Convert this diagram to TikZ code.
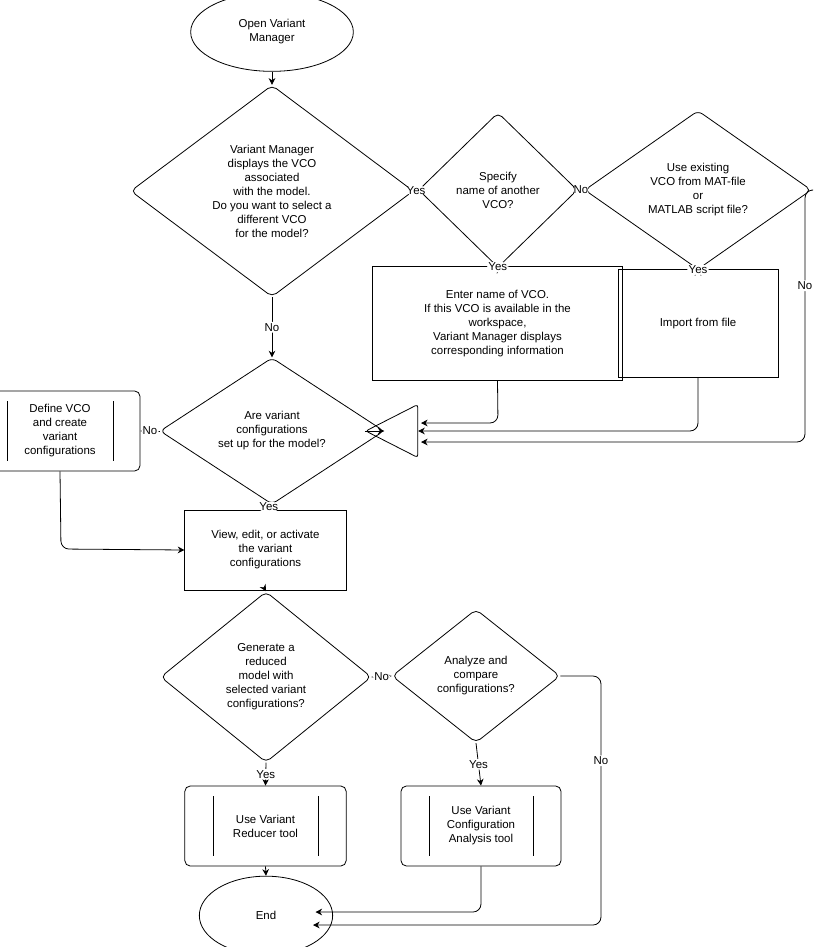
\documentclass[tikz,border=0pt]{standalone}
\usepackage{fontspec}
\setmainfont{Liberation Sans}
\usetikzlibrary{shapes.geometric,arrows.meta}
\begin{document}
\begin{tikzpicture}[x=0.75pt,y=-0.75pt,
  base/.style={draw=black,line width=0.6pt,align=center,font=\fontsize{8.6}{10.5}\selectfont,inner sep=0pt},
  dia/.style={base,diamond,rounded corners=4pt},
  box/.style={base,rectangle},
  sub/.style={base,rectangle,rounded corners=4pt},
  term/.style={base,ellipse},
  arr/.style={-{Stealth[length=5pt,width=5pt]},line width=0.6pt,rounded corners=6pt},
  lab/.style={fill=white,font=\fontsize{8.6}{10}\selectfont,inner sep=1pt}]
\useasboundingbox (0,0) rectangle (815,947);
\node[term,minimum width=122,minimum height=59] (start) at (272,32) {Open Variant\\Manager};
\node[dia,minimum width=212,minimum height=157] (d1) at (272,191) {Variant Manager\\displays the VCO\\associated\\with the model.\\Do you want to select a\\different VCO\\for the model?};
\node[dia,minimum width=119,minimum height=116] (d2) at (498,190) {Specify\\name of another\\VCO?};
\node[dia,minimum width=170,minimum height=119] (d3) at (698,190) {Use existing\\VCO from MAT-file\\or\\MATLAB script file?};
\node[box,minimum width=187,minimum height=85] (enter) at (497.5,323.5) {Enter name of VCO.\\If this VCO is available in the\\workspace,\\Variant Manager displays\\corresponding information};
\node[box,minimum width=120,minimum height=81] (imp) at (698,323.5) {Import from file};
\node[dia,minimum width=168,minimum height=99] (d4) at (272,431) {Are variant\\configurations\\set up for the model?};
\node[base,isosceles triangle,shape border rotate=180,isosceles triangle apex angle=54,minimum height=39,minimum width=39,rounded corners=2pt] (tri) at (401.5,431) {};
\node[sub,minimum width=120,minimum height=60] (def) at (60,431) {Define VCO\\and create\\variant\\configurations};
\draw[line width=0.6pt] (7,401) -- (7,461) (113,401) -- (113,461);
\node[box,minimum width=121,minimum height=60] (view) at (265.5,550) {View, edit, or activate\\the variant\\configurations};
\node[dia,minimum width=158,minimum height=128] (d5) at (266,677) {Generate a\\reduced\\model with\\selected variant\\configurations?};
\node[dia,minimum width=126,minimum height=100] (d6) at (476,676) {Analyze and\\compare\\configurations?};
\node[sub,minimum width=121,minimum height=60] (red) at (265.5,826) {Use Variant\\Reducer tool};
\draw[line width=0.6pt] (213,796) -- (213,856) (318,796) -- (318,856);
\node[sub,minimum width=120,minimum height=60] (ana) at (481,826) {Use Variant\\Configuration\\Analysis tool};
\draw[line width=0.6pt] (429,796) -- (429,856) (533,796) -- (533,856);
\node[term,minimum width=100,minimum height=59] (end) at (266,915.5) {End};

\draw[arr] (start) -- (d1);
\draw[arr] (d1.east) -- node[lab]{Yes} (d2.west);
\draw[arr] (d2.east) -- node[lab]{No} (d3.west);
\draw[arr] (d2.south) -- node[lab]{Yes} (enter.north);
\draw[arr] (d3.south) -- node[lab]{Yes} (imp.north);
\draw[arr] (enter.south) -- (498,423) -- (421,423);
\draw[arr] (imp.south) -- (698,431) -- (tri.east);
\draw[arr] (d3.east) -- (805,190) -- node[lab,pos=0.38]{No} (805,442) -- (421,442);
\draw[arr] (tri.apex) -- (d4.east);
\draw[arr] (d1.south) -- node[lab]{No} (d4.north);
\draw[arr] (d4.west) -- node[lab]{No} (def.east);
\draw[arr] (d4.south) -- node[lab]{Yes} (view.north);
\draw[arr] (def.south) -- (61,549) -- (view.west);
\draw[arr] (view.south) -- (d5.north);
\draw[arr] (d5.east) -- node[lab]{No} (d6.west);
\draw[arr] (d5.south) -- node[lab]{Yes} (red.north);
\draw[arr] (d6.south) -- node[lab]{Yes} (ana.north);
\draw[arr] (d6.east) -- (601,676) -- node[lab,pos=0.34]{No} (601,925) -- (313,925);
\draw[arr] (red.south) -- (end.north);
\draw[arr] (ana.south) -- (481,912) -- (315.5,912);
\end{tikzpicture}
\end{document}
